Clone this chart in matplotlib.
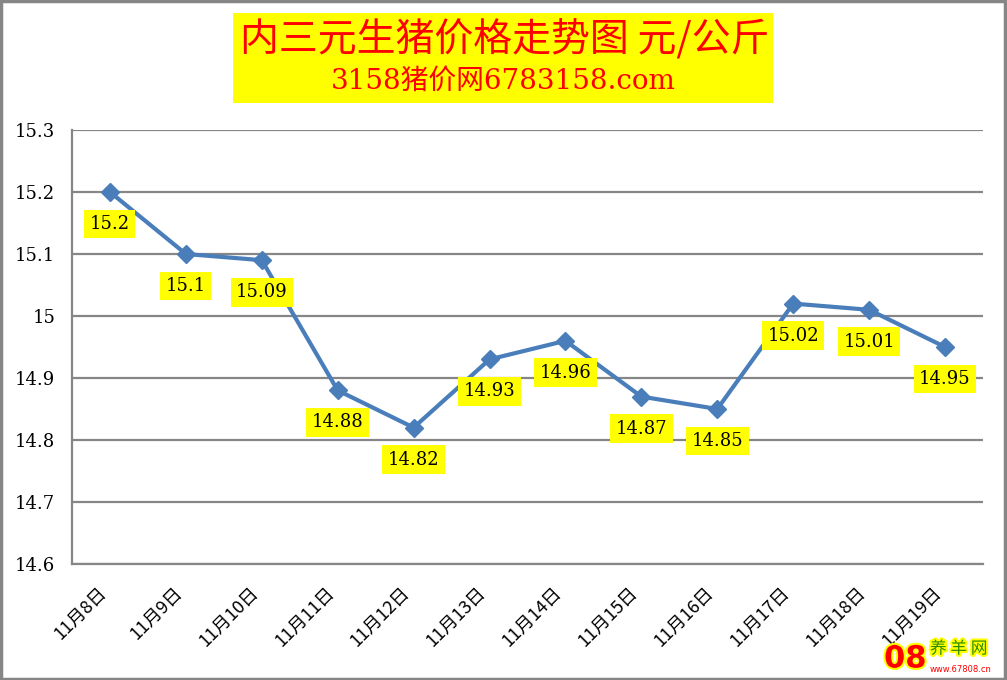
import numpy as np
import matplotlib.pyplot as plt
import matplotlib.patheffects as pe
from matplotlib.patches import Rectangle

# data
dates = ['11月8日', '11月9日', '11月10日', '11月11日', '11月12日', '11月13日',
         '11月14日', '11月15日', '11月16日', '11月17日', '11月18日', '11月19日']
prices = [15.2, 15.1, 15.09, 14.88, 14.82, 14.93, 14.96, 14.87, 14.85, 15.02, 15.01, 14.95]
label_texts = ['15.2', '15.1', '15.09', '14.88', '14.82', '14.93',
               '14.96', '14.87', '14.85', '15.02', '15.01', '14.95']
yticks = [14.6, 14.7, 14.8, 14.9, 15.0, 15.1, 15.2, 15.3]
ytick_labels = ['14.6', '14.7', '14.8', '14.9', '15', '15.1', '15.2', '15.3']

serif = ['DejaVu Serif', 'Noto Sans CJK SC']
cjk = ['Noto Sans CJK SC', 'DejaVu Sans']

W, H = 1007, 680
fig = plt.figure(figsize=(W / 100, H / 100), dpi=100)
ax = fig.add_axes([72 / W, 1 - 564 / H, (983 - 72) / W, (564 - 130) / H])

x = np.arange(len(dates))
ax.plot(x, prices, color='#4A7EBB', lw=3, marker='D', markersize=9, zorder=3)

for xi, yi, t in zip(x, prices, label_texts):
    ax.annotate(t, (xi, yi), xytext=(0, -32), textcoords='offset pixels',
                ha='center', va='center', fontsize=13, family=serif,
                bbox=dict(boxstyle='square,pad=0.3', fc='#FFFF00', ec='none'), zorder=4)

ax.set_xlim(-0.5, len(dates) - 0.5)
ax.set_ylim(14.6, 15.3)
ax.set_yticks(yticks)
ax.set_yticklabels(ytick_labels, family=serif, fontsize=13)
ax.set_xticks(x)
ax.set_xticklabels(dates, rotation=45, ha='right', va='top', family=cjk, fontsize=13)
ax.tick_params(axis='both', length=0)
ax.tick_params(axis='y', pad=12)
ax.tick_params(axis='x', pad=14)

ax.grid(axis='y', color='#868686', lw=1.6)
ax.set_axisbelow(True)
for s in ['top', 'right']:
    ax.spines[s].set_visible(False)
for s in ['left', 'bottom']:
    ax.spines[s].set_color('#868686')
    ax.spines[s].set_linewidth(1.6)

# title box
fig.patches.append(Rectangle((233 / W, 1 - 103 / H), (773 - 233) / W, 90 / H,
                             transform=fig.transFigure, fc='#FFFF00', ec='none'))
fig.text(505 / W, 1 - 40 / H, '内三元生猪价格走势图 元/公斤', ha='center', va='center',
         color='#FF0000', fontsize=28, family=cjk)
fig.text(503 / W, 1 - 81 / H, '3158猪价网6783158.com', ha='center', va='center',
         color='#FF0000', fontsize=20, family=serif)

# outer frame
fig.patches.append(Rectangle((0.001, 0.002), 0.997, 0.996, transform=fig.transFigure,
                             fc='none', ec='#868686', lw=2.5))

# watermark
outline = [pe.withStroke(linewidth=3, foreground='#FFFF00')]
fig.text(884 / W, 1 - 659 / H, '08', color='#FF0000', fontsize=22, weight='bold',
         va='center', path_effects=outline)
fig.text(930 / W, 1 - 649 / H, '养 羊 网', color='#2E8B00', fontsize=12, family=cjk,
         va='center', path_effects=outline)
fig.text(930 / W, 1 - 670 / H, 'www.67808.cn', color='#FF0000', fontsize=6,
         va='center')

fig.savefig('out.png', dpi=100)
